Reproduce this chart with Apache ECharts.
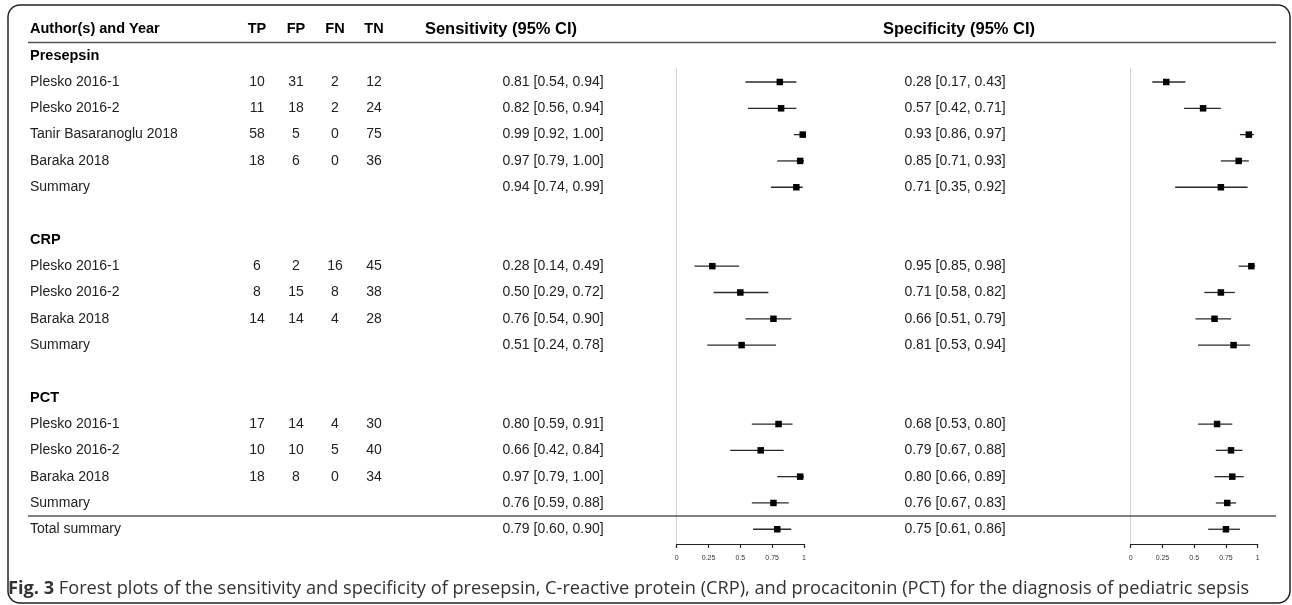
<!DOCTYPE html>
<html>
<head>
<meta charset="utf-8">
<script src="https://cdn.jsdelivr.net/npm/echarts@6/dist/echarts.min.js"></script>
<style>
html,body{margin:0;padding:0;background:#fff;}
#chart{width:1292px;height:605px;}
</style>
</head>
<body>
<div id="chart"></div>
<script>
// ---------------- data ----------------
const headers = ['Author(s) and Year', 'TP', 'FP', 'FN', 'TN', 'Sensitivity (95% CI)', 'Specificity (95% CI)'];
const groupNames = ['Presepsin', 'CRP', 'PCT'];
const studyNames = [
  ['Plesko 2016-1', 'Plesko 2016-2', 'Tanir Basaranoglu 2018', 'Baraka 2018'],
  ['Plesko 2016-1', 'Plesko 2016-2', 'Baraka 2018'],
  ['Plesko 2016-1', 'Plesko 2016-2', 'Baraka 2018']
];
const tp = [[10, 11, 58, 18], [6, 8, 14], [17, 10, 18]];
const fp = [[31, 18, 5, 6], [2, 15, 14], [14, 10, 8]];
const fn = [[2, 2, 0, 0], [16, 8, 4], [4, 5, 0]];
const tn = [[12, 24, 75, 36], [45, 38, 28], [30, 40, 34]];
const sensEst = [[0.81, 0.82, 0.99, 0.97], [0.28, 0.50, 0.76], [0.80, 0.66, 0.97]];
const sensLo  = [[0.54, 0.56, 0.92, 0.79], [0.14, 0.29, 0.54], [0.59, 0.42, 0.79]];
const sensHi  = [[0.94, 0.94, 1.00, 1.00], [0.49, 0.72, 0.90], [0.91, 0.84, 1.00]];
const specEst = [[0.28, 0.57, 0.93, 0.85], [0.95, 0.71, 0.66], [0.68, 0.79, 0.80]];
const specLo  = [[0.17, 0.42, 0.86, 0.71], [0.85, 0.58, 0.51], [0.53, 0.67, 0.66]];
const specHi  = [[0.43, 0.71, 0.97, 0.93], [0.98, 0.82, 0.79], [0.80, 0.88, 0.89]];
const summaryLabel = 'Summary';
const sensSummary = [[0.94, 0.74, 0.99], [0.51, 0.24, 0.78], [0.76, 0.59, 0.88]];
const specSummary = [[0.71, 0.35, 0.92], [0.81, 0.53, 0.94], [0.76, 0.67, 0.83]];
const totalLabel = 'Total summary';
const totalSens = [0.79, 0.60, 0.90];
const totalSpec = [0.75, 0.61, 0.86];
const tickLabels = ['0', '0.25', '0.5', '0.75', '1'];
const captionBold = 'Fig. 3';
const captionText = ' Forest plots of the sensitivity and specificity of presepsin, C-reactive protein (CRP), and procacitonin (PCT) for the diagnosis of pediatric sepsis';

// ---------------- layout ----------------
const ROW0 = 82, ROWH = 26.31;
const colX = {label: 30, tp: 257, fp: 296, fn: 335, tn: 374, sensHead: 501, sens: 553, specHead: 959, spec: 955};
const rowY = k => ROW0 + ROWH * k;

function ci(e, l, h) { return e.toFixed(2) + ' [' + l.toFixed(2) + ', ' + h.toFixed(2) + ']'; }

// build rows: cell = [x, row, text, align, kind]  kind: 0 body, 1 bold, 2 big header
const cells = [];
const sensPts = []; // [est, lo, hi, row]
const specPts = [];
const headerKeys = ['label', 'tp', 'fp', 'fn', 'tn', 'sensHead', 'specHead'];
headers.forEach((h, i) => cells.push([colX[headerKeys[i]], -2, h, i === 0 ? 'left' : 'center', i >= 5 ? 2 : 1]));
let k = -1;
groupNames.forEach((g, gi) => {
  cells.push([colX.label, k, g, 'left', 1]);
  k++;
  studyNames[gi].forEach((s, si) => {
    cells.push([colX.label, k, s, 'left', 0]);
    cells.push([colX.tp, k, String(tp[gi][si]), 'center', 0]);
    cells.push([colX.fp, k, String(fp[gi][si]), 'center', 0]);
    cells.push([colX.fn, k, String(fn[gi][si]), 'center', 0]);
    cells.push([colX.tn, k, String(tn[gi][si]), 'center', 0]);
    cells.push([colX.sens, k, ci(sensEst[gi][si], sensLo[gi][si], sensHi[gi][si]), 'center', 0]);
    cells.push([colX.spec, k, ci(specEst[gi][si], specLo[gi][si], specHi[gi][si]), 'center', 0]);
    sensPts.push([sensEst[gi][si], sensLo[gi][si], sensHi[gi][si], k]);
    specPts.push([specEst[gi][si], specLo[gi][si], specHi[gi][si], k]);
    k++;
  });
  const ss = sensSummary[gi], sp = specSummary[gi];
  cells.push([colX.label, k, summaryLabel, 'left', 0]);
  cells.push([colX.sens, k, ci(ss[0], ss[1], ss[2]), 'center', 0]);
  cells.push([colX.spec, k, ci(sp[0], sp[1], sp[2]), 'center', 0]);
  sensPts.push([ss[0], ss[1], ss[2], k]);
  specPts.push([sp[0], sp[1], sp[2], k]);
  k += 2;
});
k -= 1;
cells.push([colX.label, k, totalLabel, 'left', 0]);
cells.push([colX.sens, k, ci(totalSens[0], totalSens[1], totalSens[2]), 'center', 0]);
cells.push([colX.spec, k, ci(totalSpec[0], totalSpec[1], totalSpec[2]), 'center', 0]);
sensPts.push([totalSens[0], totalSens[1], totalSens[2], k]);
specPts.push([totalSpec[0], totalSpec[1], totalSpec[2], k]);
const rules = [[28, 1276, -1.5], [28, 1276, k - 0.5]];

const FONT = '"Liberation Sans", Arial, sans-serif';
const Y_MAX = 17.56;

const chart = echarts.init(document.getElementById('chart'), null, {renderer: 'canvas'});

function forestItem(params, api) {
  const e = api.value(0), l = api.value(1), h = api.value(2), r = api.value(3);
  const pl = api.coord([l, r]), ph = api.coord([h, r]), pe = api.coord([e, r]);
  const s = 6.5;
  return {
    type: 'group',
    children: [
      {type: 'line', shape: {x1: pl[0], y1: pl[1], x2: ph[0], y2: ph[1]}, style: {stroke: '#2a2a2a', lineWidth: 1.3}},
      {type: 'rect', shape: {x: pe[0] - s / 2, y: pe[1] - s / 2, width: s, height: s}, style: {fill: '#000'}}
    ]
  };
}

const forestX = (gi) => ({
  type: 'value', gridIndex: gi, min: 0, max: 1, interval: 0.25, position: 'bottom',
  axisLine: {show: true, onZero: false, lineStyle: {color: '#222', width: 1.2}},
  axisTick: {show: true, length: 4, lineStyle: {color: '#222', width: 1.2}},
  axisLabel: {fontSize: 7, color: '#333', margin: 11, fontFamily: FONT,
    formatter: v => tickLabels[Math.round(v * 4)]},
  splitLine: {show: false}
});
const forestY = (gi) => ({
  type: 'value', gridIndex: gi, min: -0.5, max: Y_MAX, inverse: true,
  axisLine: {show: true, onZero: false, lineStyle: {color: '#d2d2d2', width: 1}},
  axisTick: {show: false}, axisLabel: {show: false}, splitLine: {show: false}
});

const fontSizes = [14, 14.5, 16.5];

chart.setOption({
  animation: false,
  backgroundColor: '#fff',
  grid: [
    {left: 0, width: 1292, top: rowY(-2), height: ROWH * 20, outerBoundsMode: 'none', containLabel: false},
    {left: 676.7, width: 127.3, top: rowY(-0.5), height: ROWH * (Y_MAX + 0.5), outerBoundsMode: 'none', containLabel: false},
    {left: 1130.7, width: 127, top: rowY(-0.5), height: ROWH * (Y_MAX + 0.5), outerBoundsMode: 'none', containLabel: false}
  ],
  xAxis: [
    {type: 'value', gridIndex: 0, min: 0, max: 1292, show: false},
    forestX(1), forestX(2)
  ],
  yAxis: [
    {type: 'value', gridIndex: 0, min: -2, max: 18, inverse: true, show: false},
    forestY(1), forestY(2)
  ],
  graphic: [
    {type: 'rect', shape: {x: 8, y: 5, width: 1282, height: 598, r: 12},
     style: {fill: 'none', stroke: '#222', lineWidth: 1.5}, z: -1},
    {type: 'text', x: 8, y: 589,
     style: {text: '{b|' + captionBold + '}{n|' + captionText + '}', verticalAlign: 'middle',
       rich: {b: {fontFamily: '"Open Sans", sans-serif', fontWeight: 'bold', fontSize: 18.2, fill: '#333'},
              n: {fontFamily: '"Open Sans", sans-serif', fontSize: 18.2, fill: '#333'}}}}
  ],
  series: [
    {
      type: 'custom', xAxisIndex: 0, yAxisIndex: 0, data: cells, silent: true,
      renderItem: (params, api) => {
        const c = cells[params.dataIndex];
        const p = api.coord([c[0], c[1]]);
        return {type: 'text', x: p[0], y: p[1],
          style: {text: c[2], textAlign: c[3], textVerticalAlign: 'middle', fontFamily: FONT,
            fontSize: fontSizes[c[4]], fontWeight: c[4] ? 'bold' : 'normal', fill: c[4] ? '#000' : '#222'}};
      }
    },
    {
      type: 'custom', xAxisIndex: 0, yAxisIndex: 0, data: rules, silent: true,
      renderItem: (params, api) => {
        const a = api.coord([api.value(0), api.value(2)]), b = api.coord([api.value(1), api.value(2)]);
        return {type: 'line', shape: {x1: a[0], y1: a[1], x2: b[0], y2: b[1]}, style: {stroke: '#555', lineWidth: 1.5}};
      }
    },
    {type: 'custom', xAxisIndex: 1, yAxisIndex: 1, data: sensPts, renderItem: forestItem, silent: true},
    {type: 'custom', xAxisIndex: 2, yAxisIndex: 2, data: specPts, renderItem: forestItem, silent: true}
  ]
});
</script>
</body>
</html>
